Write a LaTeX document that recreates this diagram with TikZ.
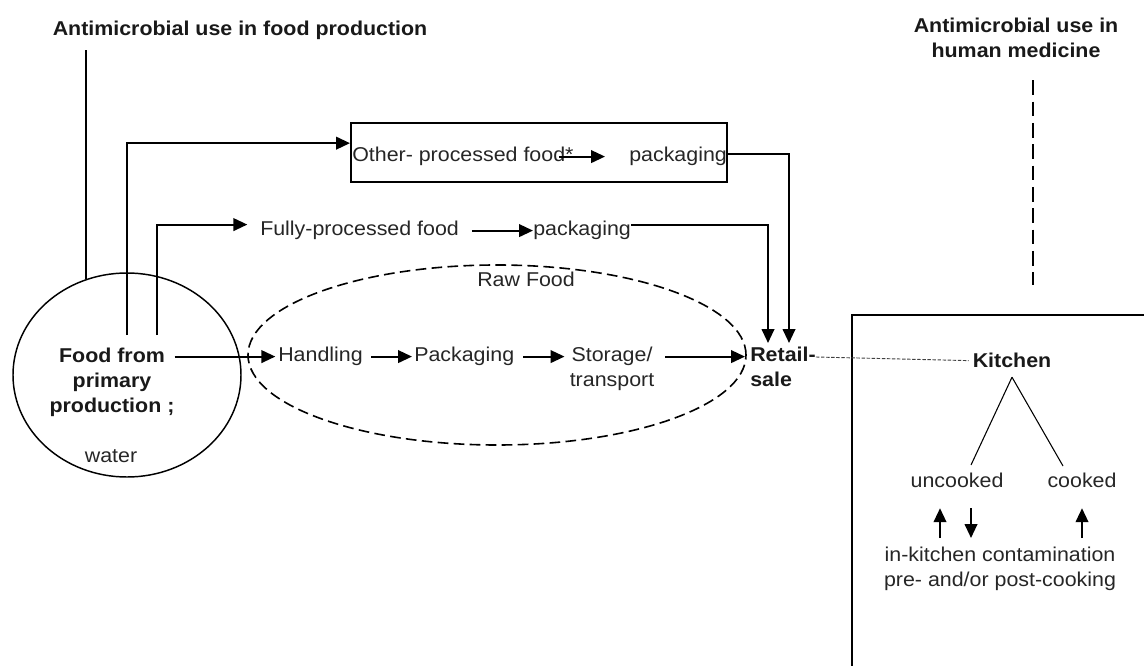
\documentclass[tikz,border=0pt]{standalone}
\usepackage{fontspec}
\setmainfont[FakeStretch=1.07]{Liberation Sans}
\usetikzlibrary{arrows.meta,shapes.geometric,calc}
\begin{document}
\begin{tikzpicture}[x=0.75pt,y=-0.75pt,
  txt/.style={inner sep=0pt, text=black!85, font=\fontsize{15}{18.75}\selectfont},
  btxt/.style={inner sep=0pt, text=black!90, font=\fontsize{15}{18.75}\selectfont\bfseries},
  ln/.style={line width=1.5pt},
  thinln/.style={line width=0.8pt},
  arr/.style={line width=1.5pt, -{Triangle[length=10.5pt,width=9.5pt]}},
  dotline/.style={line width=0.7pt, dash pattern=on 2.6pt off 1.2pt, black!75},
  vdash/.style={line width=1.5pt, dash pattern=on 11pt off 5pt},
  rawell/.style={draw, ellipse, line width=1.2pt, dash pattern=on 8pt off 4pt, inner sep=0pt},
]
\useasboundingbox (0,0) rectangle (1144,666);

% titles
\node[btxt, anchor=north] (title1) at (240,21) {Antimicrobial use in food production};
\node[btxt, anchor=north, align=center] (title2) at (1016,18) {Antimicrobial use in\\human medicine};

% primary production circle
\node[draw, ellipse, line width=1.1pt, minimum width=171pt, minimum height=153pt, inner sep=0pt] (circ) at (127,375) {};
\node[btxt, anchor=north, align=center] (food) at (112,348) {Food from\\primary\\production ;};
\node[txt, anchor=north] (water) at (111,449) {water};

% raw food ellipse
\node[rawell, minimum width=373.5pt, minimum height=135pt] (raw) at (497,355) {};
\node[txt, anchor=north west] (rawlbl) at (477,272) {Raw Food};

% other processed food box
\node[draw, line width=1.5pt, minimum width=282pt, minimum height=44.25pt, inner sep=0pt] (otherbox) at (539,152.5) {};
\node[txt, anchor=north west] (other) at (352,147) {Other- processed food*};
\node[txt, anchor=north west] (pack1) at (629,147) {packaging};

% fully processed
\node[txt, anchor=north west] (fully) at (260,221) {Fully-processed food};
\node[txt, anchor=north west] (pack2) at (533,221) {packaging};

% main row
\node[txt, anchor=north west] (handling) at (278,347) {Handling};
\node[txt, anchor=north west] (packaging) at (414,347) {Packaging};
\node[txt, anchor=north, align=center] (storage) at (612,347) {Storage/\\transport};
\node[btxt, anchor=north west, align=left] (retail) at (750,347) {Retail-\\sale};

% kitchen (box continues beyond the picture's right and bottom edges)
\coordinate (kbtl) at (852,315);
\coordinate (kbtr) at (1150,315);
\coordinate (kbbl) at (852,672);
\begin{scope}
  \clip (0,0) rectangle (1144,666);
  \draw[ln] (kbbl) -- (kbtl) -- (kbtr);
\end{scope}
\node[btxt, anchor=north] (kitchen) at (1012,353) {Kitchen};
\node[txt, anchor=north] (uncooked) at (957,473) {uncooked};
\node[txt, anchor=north] (cooked) at (1082,473) {cooked};
\node[txt, anchor=north, align=center] (inkit) at (1000,547) {in-kitchen contamination\\pre- and/or post-cooking};

% coordinates
\coordinate (c1) at (127,335);
\coordinate (c2) at (157,335);
\coordinate (rin1) at (768,343);
\coordinate (rin2) at (789,343);
\coordinate (hm) at (1033,285);

% connectors
\draw[ln, shorten <=7.5pt] (title1.south -| circ.113) -- (circ.113);
\draw[arr] (c1) |- ([yshift=7pt]otherbox.west);
\draw[arr, shorten >=9.5pt] (c2) |- ([yshift=4.5pt]fully.west);
\draw[arr, shorten <=-11pt, shorten >=18pt] (other.east) -- (pack1.west |- other.east);
\draw[arr, shorten <=9.5pt] (fully.east) -- (pack2.west);
\draw[arr] ([yshift=2pt]pack1.east) -| (rin2);
\draw[arr] ([yshift=4.5pt]pack2.east) -| (rin1);

\draw[arr, shorten >=2pt] (food.north east |- handling.west) -- (handling.west);
\draw[arr, shorten <=6pt, shorten >=1.5pt] (handling.east) -- (packaging.west);
\draw[arr, shorten <=6.5pt, shorten >=3.75pt] (packaging.east) -- (storage.west |- packaging.east);
\draw[arr, shorten <=8pt, shorten >=3.75pt] (storage.east |- handling.west) -- (retail.west |- handling.west);

\draw[dotline] ([yshift=-7.5pt]retail.north east) -- ([xshift=-3pt]kitchen.west);
\draw[vdash, shorten <=16.5pt] (title2.south -| hm) -- (hm);

\draw[thinln] ([yshift=-6.75pt]kitchen.south) -- ([xshift=10.5pt,yshift=6pt]uncooked.north);
\draw[thinln] ([yshift=-6.75pt]kitchen.south) -- ([xshift=-14.25pt,yshift=5.25pt]cooked.north);

\draw[arr] ($(inkit.north -| uncooked.south)+(-17,-9)$) -- ($(uncooked.south)+(-17,20)$);
\draw[arr] ($(uncooked.south)+(14,20)$) -- ($(inkit.north -| uncooked.south)+(14,-9)$);
\draw[arr] ($(inkit.north -| cooked.south)+(0,-9)$) -- ($(cooked.south)+(0,20)$);
\end{tikzpicture}
\end{document}
